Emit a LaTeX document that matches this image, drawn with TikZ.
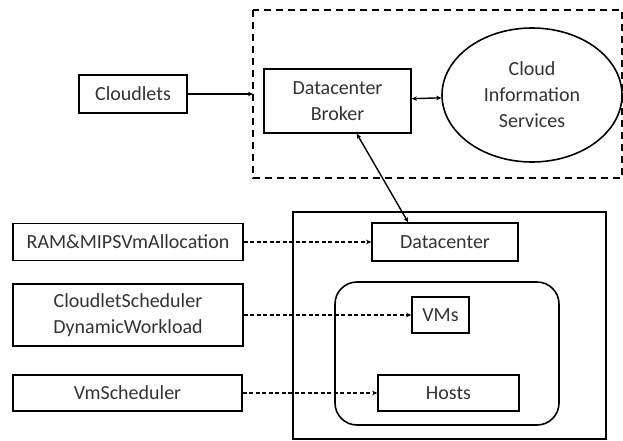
\documentclass[tikz,border=0pt]{standalone}
\usepackage{fontspec}
\setmainfont{Carlito}
\usepackage{tikz}
\usetikzlibrary{shapes.geometric,calc,arrows.meta}
\tikzset{
  box/.style={draw, line width=1.6pt, inner sep=0pt, align=center, text=black!80},
  arr/.style={line width=1.4pt, -{Stealth[length=5pt,width=4.5pt]}},
  darr/.style={arr, dash pattern=on 4pt off 2.5pt},
}

\begin{document}
\begin{tikzpicture}[x=1pt,y=-1pt,font=\fontsize{20}{26}\selectfont]
\useasboundingbox (0,0) rectangle (623,441);
% frames
\draw[line width=1.6pt, dash pattern=on 7pt off 5pt] (253,10) rectangle (622,178);
\draw[line width=1.6pt] (293,212) rectangle (606,439);
\draw[line width=1.6pt, rounded corners=22pt] (335,282) rectangle (559,425);
% top part
\node[box, minimum width=108pt, minimum height=38pt] (cl) at (133,94) {Cloudlets};
\node[box, minimum width=147pt, minimum height=64pt] (br) at (337.5,101) {Datacenter\\Broker};
\node[box, ellipse, minimum width=180pt, minimum height=134pt] (cis) at (532,95) {Cloud\\Information\\Services};
\coordinate (in) at (253,94);
% datacenter part
\node[box, minimum width=146pt, minimum height=38pt] (dc) at (445,242) {Datacenter};
\node[box, minimum width=57pt, minimum height=36pt] (vm) at (440.5,315) {VMs};
\node[box, minimum width=141pt, minimum height=36pt] (ho) at (448.5,393) {Hosts};
% policies
\node[box, minimum width=230pt, minimum height=37pt] (ram) at (128,242) {RAM\&MIPSVmAllocation};
\node[box, minimum width=230pt, minimum height=62pt] (csd) at (128,315) {CloudletScheduler\\DynamicWorkload};
\node[box, minimum width=229pt, minimum height=36pt] (vms) at (127.5,393) {VmScheduler};
% links
\draw[arr] (cl) -- (in);
\draw[arr, {Stealth[length=5pt,width=4.5pt]}-{Stealth[length=5pt,width=4.5pt]}] (br) -- (cis);
\draw[arr, {Stealth[length=5pt,width=4.5pt]}-{Stealth[length=5pt,width=4.5pt]}] ($(br.south west)!0.63!(br.south east)$) -- ($(dc.north west)!0.25!(dc.north east)$);
\draw[darr] (ram) -- (dc);
\draw[darr] (csd) -- (vm);
\draw[darr] (vms) -- (ho);
\end{tikzpicture}
\end{document}
